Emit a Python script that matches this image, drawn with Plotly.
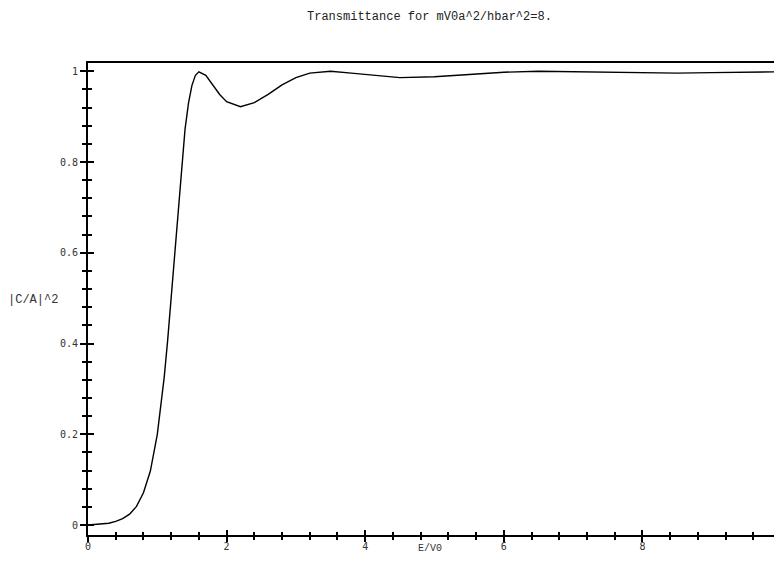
import plotly.graph_objects as go

# Energy E/V0 and transmittance |C/A|^2
energy = [0.0, 0.1, 0.2, 0.3, 0.4, 0.5, 0.6, 0.7, 0.8, 0.9, 1.0, 1.05, 1.1, 1.15,
          1.2, 1.25, 1.3, 1.35, 1.4, 1.45, 1.5, 1.55, 1.6, 1.7, 1.8, 1.9, 2.0,
          2.2, 2.4, 2.6, 2.8, 3.0, 3.2, 3.5, 3.8, 4.0, 4.5, 5.0, 5.5, 6.0, 6.5,
          7.0, 7.5, 8.0, 8.5, 9.0, 9.5, 10.0]
transmit = [0.0, 0.001, 0.002, 0.004, 0.008, 0.014, 0.024, 0.041, 0.071, 0.119,
            0.200, 0.257, 0.326, 0.408, 0.502, 0.602, 0.702, 0.794, 0.872, 0.930,
            0.969, 0.991, 0.999, 0.991, 0.970, 0.949, 0.933, 0.922, 0.931, 0.949,
            0.970, 0.986, 0.996, 1.000, 0.996, 0.993, 0.986, 0.988, 0.9935,
            0.998, 1.000, 0.999, 0.9975, 0.996, 0.996, 0.997, 0.998, 0.999]

x_tickvals = [0, 2, 4, 6, 8, 10]
x_ticktext = ["0", "2", "4", "6", "8", "10"]
y_tickvals = [0, 0.2, 0.4, 0.6, 0.8, 1.0]
y_ticktext = ["0", "0.2", "0.4", "0.6", "0.8", "1"]

title_text = "Transmittance for mV0a^2/hbar^2=8."
x_title = "E/V0"
y_title = "|C/A|^2"

x_range = [0, 10]
y_range = [-0.022, 1.0183]

mono = "Liberation Mono"
tickfont = dict(family="DejaVu Sans Mono", size=10, color="#333333")

fig = go.Figure()
fig.add_trace(go.Scatter(x=energy, y=transmit, mode="lines",
                         line=dict(color="black", width=1.4, shape="linear"),
                         showlegend=False, hoverinfo="skip"))
# invisible trace to carry the inside-tick overlay axes
fig.add_trace(go.Scatter(x=[x_range[0]], y=[y_range[0]], mode="markers",
                         marker=dict(opacity=0), xaxis="x2", yaxis="y2",
                         showlegend=False, hoverinfo="skip"))

common = dict(showgrid=False, zeroline=False, automargin=False)

PH = 472  # plot height in px
PW = 693  # plot width in px
OFF = 8   # page body margin offset

fig.update_layout(
    template="none",
    width=782, height=564,
    margin=dict(l=88 - OFF, r=782 - (88 - OFF) - PW, t=63 - OFF,
                b=564 - (63 - OFF) - PH, pad=0),
    paper_bgcolor="white", plot_bgcolor="white",
    showlegend=False,
    xaxis=dict(range=x_range, tickmode="array", tickvals=x_tickvals,
               ticktext=x_ticktext, ticks="outside", ticklen=5, tickwidth=1.5,
               tickcolor="black", ticklabelstandoff=-4,
               minor=dict(tick0=0, dtick=0.4, ticks="outside", ticklen=3,
                          tickwidth=1.5, tickcolor="black"),
               showline=True, linewidth=2, linecolor="black", mirror=True,
               tickfont=tickfont, **common),
    yaxis=dict(range=y_range, tickmode="array", tickvals=y_tickvals,
               ticktext=y_ticktext, ticks="outside", ticklen=6, tickwidth=1.5,
               tickcolor="black",
               minor=dict(tick0=0, dtick=0.04, ticks="outside", ticklen=4,
                          tickwidth=1.5, tickcolor="black"),
               showline=True, linewidth=2, linecolor="black", mirror=True,
               tickfont=tickfont, **common),
    xaxis2=dict(range=x_range, overlaying="x", anchor="y2", side="bottom",
                tickmode="array", tickvals=x_tickvals, showticklabels=False,
                ticks="inside", ticklen=5, tickwidth=1.5, tickcolor="black",
                minor=dict(tick0=0, dtick=0.4, ticks="inside", ticklen=3,
                           tickwidth=1.5, tickcolor="black"),
                showline=False, **common),
    yaxis2=dict(range=y_range, overlaying="y", anchor="x2", side="left",
                tickmode="array", tickvals=y_tickvals, showticklabels=False,
                ticks="inside", ticklen=6, tickwidth=1.5, tickcolor="black",
                minor=dict(tick0=0, dtick=0.04, ticks="inside", ticklen=4,
                           tickwidth=1.5, tickcolor="black"),
                showline=False, **common),
    annotations=[
        dict(text=title_text, xref="paper", yref="paper", x=(429 - 88) / PW,
             y=(535 - 17) / PH, xanchor="center", yanchor="middle",
             showarrow=False, font=dict(family=mono, size=12, color="#222222")),
        dict(text=y_title, xref="paper", yref="paper", x=(6 - 88) / PW,
             y=(535 - 300) / PH, xanchor="left", yanchor="middle",
             showarrow=False, font=dict(family=mono, size=12, color="#333333")),
        dict(text=x_title, xref="paper", yref="paper", x=0.493,
             y=(535 - 548) / PH, xanchor="center", yanchor="middle",
             showarrow=False, font=dict(family=mono, size=10, color="#333333")),
    ],
)

fig.write_html("out.html")
